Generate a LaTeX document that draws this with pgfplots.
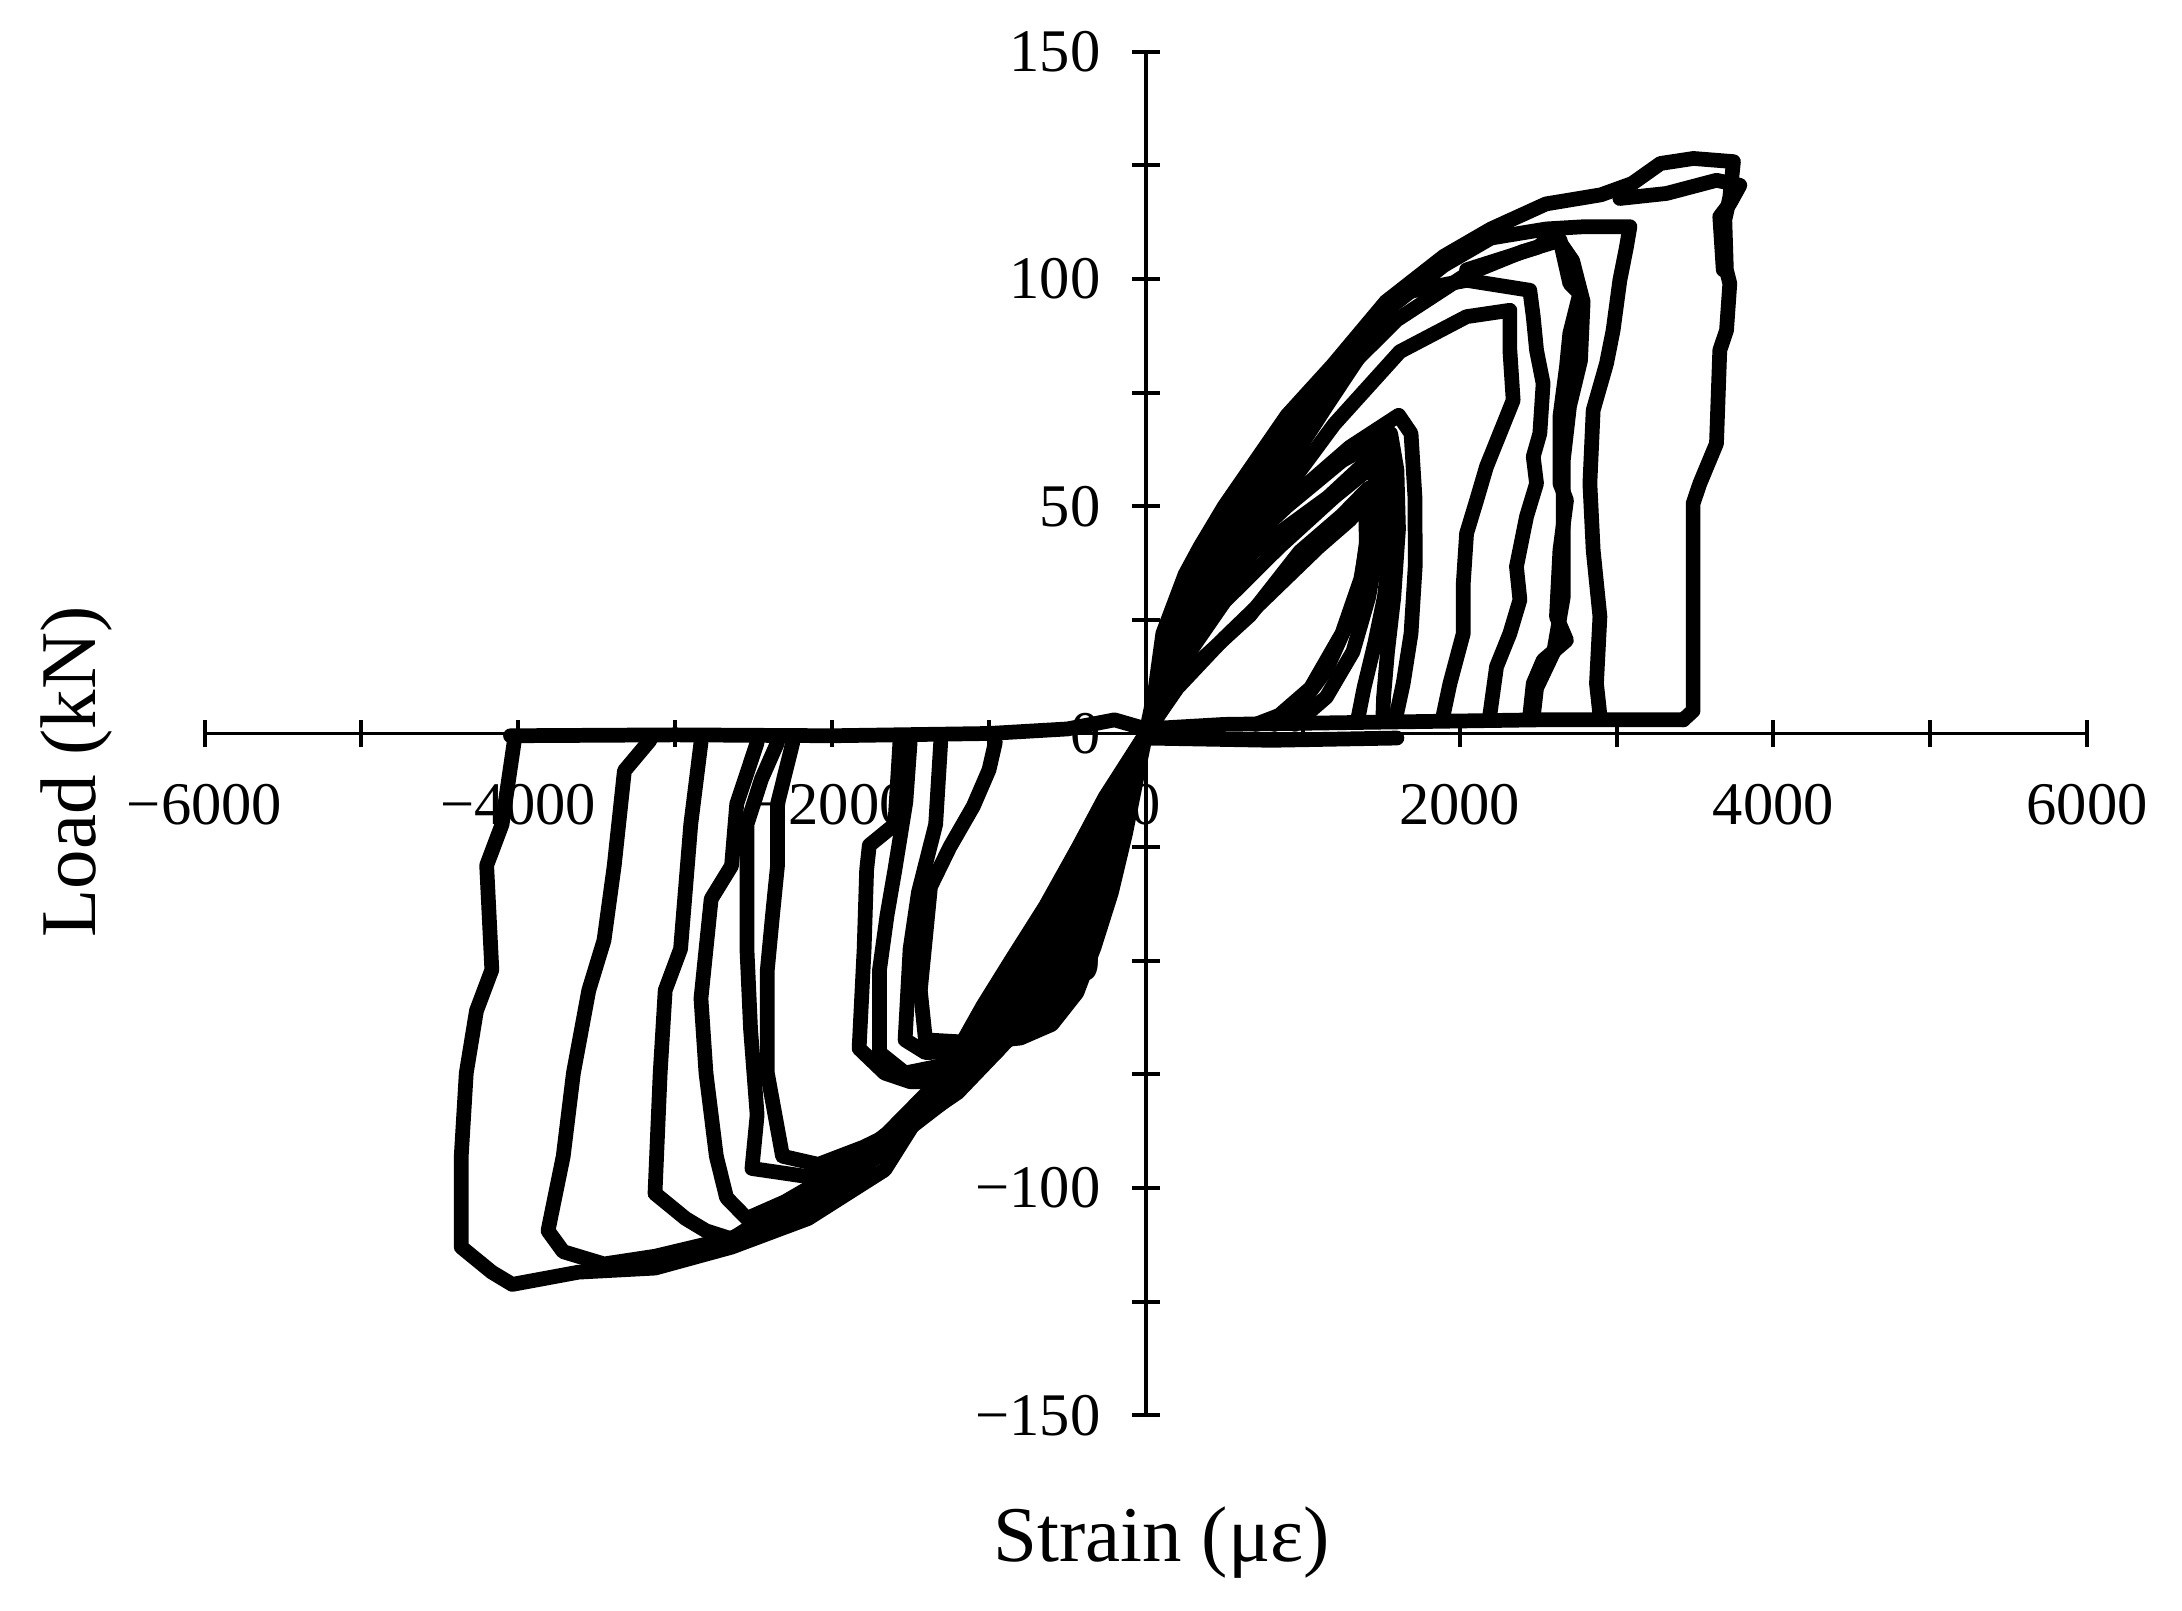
\documentclass[border=0pt]{standalone}
\usepackage{fontspec}
\setmainfont{Liberation Serif}
\usepackage{pgfplots}
\pgfplotsset{compat=1.18}
\pgfplotsset{cur/.style={black,line width=2.8pt,line join=round,line cap=round,mark=none}}
\begin{document}
\begin{tikzpicture}
\begin{axis}[
  scale only axis, width=357.7pt, height=259.1pt,
  xmin=-6000, xmax=6000, ymin=-150, ymax=150,
  axis lines=middle, axis line style={-, line width=0.75pt},
  hide obscured x ticks=false, hide obscured y ticks=false,
  xtick={-6000,-4000,-2000,0,2000,4000,6000},
  xticklabels={−6000,−4000,−2000,0,2000,4000,6000},
  minor xtick={-5000,-3000,-1000,1000,3000,5000},
  ytick={-150,-100,-50,0,50,100,150},
  yticklabels={−150,−100,−50,0,50,100,150},
  minor ytick={-125,-75,-25,25,75,125},
  tick align=center, major tick length=5.2pt, minor tick length=5.2pt,
  tick style={line width=0.75pt, black},
  xticklabel style={font=\fontsize{11.5}{13}\selectfont, yshift=-3.5pt},
  yticklabel style={font=\fontsize{11.5}{13}\selectfont, xshift=-2.5pt},
  xlabel={Strain (με)}, ylabel={Load (kN)},
  every axis x label/.style={at={(axis description cs:0.5084,-0.0934)},anchor=center,font=\fontsize{15}{18}\selectfont},
  every axis y label/.style={at={(axis description cs:-0.0682,0.4718)},anchor=center,rotate=90,font=\fontsize{15}{18}\selectfont},
  clip=false,
]
% zero lines
\addplot[cur] coordinates {(-4050,-0.5)(-3000,-0.3)(-2000,-0.5)(-1000,0)(-500,1)(-200,3)(0,1)(500,2)(1500,2.5)(2500,3)(3425,3)};
\addplot[cur] coordinates {(0,-1)(800,-1.5)(1600,-1)};
% positive half cycles
\addplot[cur] coordinates {(0,0)(200,10)(500,21)(800,31)(1100,41)(1300,47)(1400,51)(1405,42)(1370,33)(1280,24)(1150,14)(1000,7)(850,3)(820,2)};
\addplot[cur] coordinates {(0,0)(250,13)(663,26)(981,40)(1250,48)(1420,54)(1425,45)(1370,34)(1250,22)(1050,10)(850,4)(700,2)};
\addplot[cur] coordinates {(0,0)(220,15)(500,29)(850,41)(1200,52)(1450,59)(1480,50)(1470,40)(1420,30)(1320,18)(1150,8)(950,2)};
\addplot[cur] coordinates {(0,0)(300,22)(686,40)(1162,52)(1505,63)(1545,55)(1560,42)(1520,30)(1460,20)(1390,10)(1350,3)};
\addplot[cur] coordinates {(0,0)(250,22)(500,36)(686,44)(1000,54)(1300,63)(1611,70)(1690,66)(1715,52)(1717,37)(1690,22)(1640,11)(1590,3)};
\addplot[cur] coordinates {(0,0)(280,24)(560,39)(900,50)(1250,60)(1560,66)(1600,58)(1610,45)(1580,30)(1540,18)(1515,8)(1510,3)};
\addplot[cur] coordinates {(0,0)(150,10)(300,22)(480,33)(650,42)(900,54)(1200,68)(1619,84)(2044,91.7)(2320,93.1)(2320,84.3)(2341,73.3)(2256,66)(2171,58.7)(2108,51.3)(2044,44)(2023,33)(2023,22)(1938,11)(1895,4)};
\addplot[cur] coordinates {(0,0)(120,10)(250,22)(420,33)(600,43)(850,56)(1150,72)(1400,85)(1619,96.8)(2044,99.7)(2447,97.5)(2469,91.7)(2490,84.3)(2532,77)(2511,66)(2469,60.9)(2490,55)(2426,47.7)(2362,36.7)(2384,29.4)(2320,22)(2235,14.7)(2192,4)};
\addplot[cur] coordinates {(0,0)(100,10)(200,22)(350,33)(500,42)(700,53)(950,66)(1250,79)(1600,91)(2044,101)(2400,106)(2640,108.5)(2702,99)(2766,96.8)(2702,88)(2681,80.7)(2639,69.7)(2639,55)(2681,51.3)(2639,40.3)(2617,25.7)(2681,20.5)(2532,16.1)(2469,11)(2447,4)};
\addplot[cur] coordinates {(2044,102)(2500,107)(2600,110)(2720,104)(2787,95)(2770,82)(2700,72)(2660,60)(2660,30)(2600,18)(2490,10)(2470,4)};
\addplot[cur] coordinates {(0,0)(80,10)(160,22)(300,33)(450,44)(650,55)(900,68)(1190,80)(1530,93)(1900,103)(2200,109)(2554,111)(2800,111.5)(3085,111.5)(3063,107)(3021,99.7)(2978,88.7)(2936,81.4)(2851,71.1)(2830,55)(2851,40.3)(2894,25.7)(2872,11)(2894,4)};
\addplot[cur] coordinates {(0,0)(60,10)(108,22)(250,35)(344,41)(500,50)(700,60)(900,70)(1190,81)(1530,95)(1900,105)(2200,111)(2550,116.5)(2900,118.5)(3100,121)(3280,125.4)(3490,126.5)(3745,125.8)(3722,118)(3690,113)(3700,102)(3722,99)(3701,88.7)(3658,84.3)(3637,63.8)(3531,55)(3488,50.6)(3488,5)(3425,3)};
\addplot[cur] coordinates {(3021,117.7)(3318,118.8)(3637,121.7)(3786,120.6)(3722,116.6)(3658,113.7)(3680,102)};
% negative half cycles
\addplot[cur] coordinates {(0,0)(-60,-10)(-130,-22)(-220,-35)(-330,-47)(-440,-57)(-600,-64)(-800,-67)(-1100,-68)(-1405,-67.4)(-1438,-56.5)(-1373,-33.7)(-1250,-25)(-1100,-16)(-1000,-8)(-960,-2)};
\addplot[cur] coordinates {(0,0)(-80,-10)(-170,-22)(-270,-35)(-380,-47)(-500,-57)(-700,-65)(-1000,-69)(-1250,-70)(-1405,-70.2)(-1535,-67.4)(-1503,-47.4)(-1450,-35)(-1340,-20)(-1308,-2)};
\addplot[cur] coordinates {(0,0)(-100,-11)(-200,-23)(-320,-36)(-450,-48)(-600,-58)(-850,-67)(-1150,-72)(-1535,-74.7)(-1698,-70.2)(-1698,-52)(-1650,-40)(-1600,-30)(-1530,-15)(-1503,-2)};
\addplot[cur] coordinates {(0,0)(-110,-12)(-220,-24)(-350,-36)(-500,-48)(-680,-60)(-950,-70)(-1200,-75)(-1373,-76.6)(-1503,-76.6)(-1665,-74.7)(-1828,-69.3)(-1796,-47.4)(-1780,-30)(-1763,-24.6)(-1600,-20)(-1568,-2)};
\addplot[cur] coordinates {(0,0)(-120,-12)(-240,-24)(-380,-36)(-560,-48)(-750,-60)(-950,-70)(-1200,-79)(-1500,-86)(-1800,-91)(-2088,-94.8)(-2316,-93)(-2413,-74.7)(-2413,-52)(-2380,-40)(-2348,-29)(-2348,-15.5)(-2251,-2)};
\addplot[cur] coordinates {(0,0)(-140,-12)(-270,-24)(-420,-36)(-600,-48)(-800,-60)(-1000,-70)(-1250,-80)(-1550,-88)(-1850,-94)(-2153,-97.5)(-2511,-95.7)(-2478,-83.9)(-2520,-65)(-2543,-47.4)(-2543,-20)(-2450,-10)(-2348,-2)};
\addplot[cur] coordinates {(0,0)(-180,-12)(-330,-24)(-500,-36)(-700,-48)(-900,-60)(-1150,-72)(-1500,-84)(-1900,-95)(-2300,-103)(-2543,-106.7)(-2673,-102.1)(-2738,-93)(-2804,-74.7)(-2836,-58.3)(-2771,-36.4)(-2641,-29.1)(-2608,-15.5)(-2478,-2)};
\addplot[cur] coordinates {(0,0)(-200,-12)(-360,-24)(-540,-36)(-740,-48)(-950,-60)(-1250,-74)(-1650,-88)(-2100,-100)(-2450,-107)(-2641,-111.2)(-2804,-109.4)(-2934,-106.7)(-3129,-101.2)(-3096,-74.7)(-3064,-56.5)(-2966,-47.4)(-2901,-20)(-2836,-2)};
\addplot[cur] coordinates {(0,0)(-230,-13)(-400,-25)(-600,-38)(-820,-50)(-1000,-60)(-1300,-76)(-1665,-92)(-2150,-104)(-2641,-111)(-3128,-115)(-3454,-116.7)(-3714,-114)(-3811,-109.4)(-3714,-93)(-3649,-74.7)(-3551,-56.5)(-3454,-45.5)(-3389,-29.1)(-3324,-8.2)(-3161,-1.5)};
\addplot[cur] coordinates {(0,0)(-260,-14)(-430,-25)(-640,-38)(-860,-50)(-1040,-60)(-1300,-76)(-1665,-96)(-2153,-106.7)(-2641,-113)(-3128,-117.6)(-3616,-118.5)(-4039,-121.2)(-4169,-118.5)(-4364,-113)(-4364,-93)(-4332,-74.7)(-4267,-61)(-4169,-52)(-4202,-29)(-4104,-20)(-4023,-1)};
\end{axis}
\path (current axis.south west) ++(-38.87pt,-36.99pt) rectangle ++(414.58pt,305.9pt);
\end{tikzpicture}
\end{document}
